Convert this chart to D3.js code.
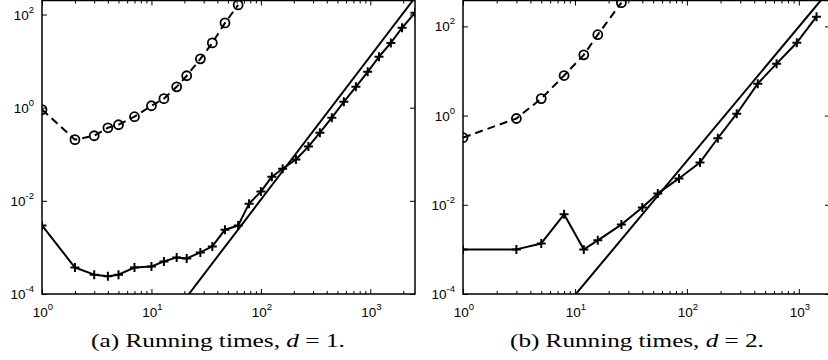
<!DOCTYPE html>
<html>
<head>
<meta charset="utf-8">
<script src="https://cdn.jsdelivr.net/npm/d3@7"></script>
<style>
  body { margin: 0; background: #fff; }
  svg { display: block; }
</style>
</head>
<body>
<script>
// panel (a): d = 1
const nA = [1, 2, 3, 4, 5, 7, 10, 13, 17, 21, 28, 36, 47, 62, 78, 100, 126, 158, 209, 272, 346, 445, 573, 738, 946, 1200, 1540, 1950, 2560];
const fastA = [0.00296, 3.7e-4, 2.6e-4, 2.4e-4, 2.6e-4, 3.7e-4, 3.9e-4, 5.0e-4, 6.1e-4, 5.8e-4, 7.8e-4, 1.05e-3, 2.4e-3, 2.96e-3, 8.7e-3, 0.0158, 0.033, 0.049, 0.077, 0.146, 0.29, 0.61, 1.34, 2.8, 5.9, 12.4, 24.6, 52, 109];
const nSlowA = [1, 2, 3, 4, 5, 7, 10, 13, 17, 21, 28, 36, 47, 62];
const slowA = [0.91, 0.206, 0.25, 0.37, 0.43, 0.64, 1.1, 1.56, 2.8, 4.85, 11.2, 24.6, 66, 161];
const refA = [[22, 1e-4], [2445, 200]];

// panel (b): d = 2
const nB = [1, 3, 5, 8, 12, 16, 26, 40, 55, 85, 131, 189, 279, 430, 633, 960, 1440];
const fastB = [1e-3, 1e-3, 1.36e-3, 6.1e-3, 1e-3, 1.6e-3, 3.6e-3, 8.7e-3, 0.018, 0.039, 0.089, 0.31, 1.1, 5.2, 14.6, 43, 165];
const nSlowB = [1, 3, 5, 8, 12, 16, 26];
const slowB = [0.32, 0.86, 2.4, 7.9, 23, 65, 340];
const refB = [[10.2, 1e-4], [1570, 380]];

const xMajor = [1, 10, 100, 1000];
const yMajor = [1e-4, 1e-2, 1, 1e2];

const W = 828, H = 360;
const svg = d3.select("body").append("svg").attr("width", W).attr("height", H);

const sup = v => String(Math.round(Math.log10(v)));

function minorTicks(domain) {
  const out = [];
  for (let e = 0; e < 5; e++) {
    for (let m = 2; m <= 9; m++) {
      const v = m * Math.pow(10, e);
      if (v > domain[0] && v < domain[1]) out.push(v);
    }
  }
  return out;
}

function panel(id, p) {
  const x = d3.scaleLog().domain(p.xdom).range(p.xr);
  const y = d3.scaleLog().domain(p.ydom).range(p.yr);
  const g = svg.append("g");

  g.append("clipPath").attr("id", "clip" + id)
    .append("rect").attr("x", p.xr[0]).attr("y", p.yr[1])
    .attr("width", p.xr[1] - p.xr[0]).attr("height", p.yr[0] - p.yr[1]);

  // ticks: all four sides, pointing in
  const ticks = (axis, tr, vals, size) => {
    g.append("g").attr("transform", tr)
      .call(axis.tickValues(vals).tickSize(size).tickFormat(""))
      .call(s => s.select(".domain").remove())
      .selectAll("line").attr("stroke", "#000").attr("stroke-width", 1);
  };
  const xMinor = minorTicks(p.xdom);
  ticks(d3.axisBottom(x), `translate(0,${p.yr[0]})`, xMajor, -5);
  ticks(d3.axisBottom(x), `translate(0,${p.yr[0]})`, xMinor, -3);
  ticks(d3.axisTop(x), `translate(0,${p.yr[1]})`, xMajor, -5);
  ticks(d3.axisTop(x), `translate(0,${p.yr[1]})`, xMinor, -3);
  ticks(d3.axisLeft(y), `translate(${p.xr[0]},0)`, yMajor, -5);
  ticks(d3.axisRight(y), `translate(${p.xr[1]},0)`, yMajor, -5);

  // box
  g.append("rect").attr("x", p.xr[0]).attr("y", p.yr[1])
    .attr("width", p.xr[1] - p.xr[0]).attr("height", p.yr[0] - p.yr[1])
    .attr("fill", "none").attr("stroke", "#000").attr("stroke-width", 1.5);

  // tick labels
  const xl = g.selectAll("text.xl").data(xMajor).join("text")
    .attr("class", "xl")
    .attr("x", d => x(d) + 1).attr("y", p.yr[0] + 23)
    .attr("text-anchor", "middle")
    .style("font", "13.5px 'Liberation Sans', Arial, sans-serif");
  xl.append("tspan").text("10");
  xl.append("tspan").attr("dy", -7).style("font-size", "9.5px").text(sup);

  const yl = g.selectAll("text.yl").data(yMajor).join("text")
    .attr("class", "yl")
    .attr("x", p.xr[0] - 8).attr("y", d => y(d) + 5)
    .attr("text-anchor", "end")
    .style("font", "13.5px 'Liberation Sans', Arial, sans-serif");
  yl.append("tspan").text("10");
  yl.append("tspan").attr("dy", -7).style("font-size", "9.5px").text(sup);

  const plot = g.append("g").attr("clip-path", `url(#clip${id})`);
  const line = d3.line().x(d => x(d[0])).y(d => y(d[1]));

  plot.append("path").datum(p.ref).attr("d", line)
    .attr("fill", "none").attr("stroke", "#000").attr("stroke-width", 2);

  const fast = p.n.map((n, i) => [n, p.fast[i]]);
  plot.append("path").datum(fast).attr("d", line)
    .attr("fill", "none").attr("stroke", "#000").attr("stroke-width", 2)
    .attr("stroke-linejoin", "round");
  plot.selectAll("path.plus").data(fast).join("path")
    .attr("class", "plus")
    .attr("d", d => `M${x(d[0]) - 4.5},${y(d[1])}h9M${x(d[0])},${y(d[1]) - 4.5}v9`)
    .attr("stroke", "#000").attr("stroke-width", 2);

  const slow = p.nSlow.map((n, i) => [n, p.slow[i]]);
  plot.append("path").datum(slow).attr("d", line)
    .attr("fill", "none").attr("stroke", "#000").attr("stroke-width", 2)
    .attr("stroke-dasharray", "8,5");
  plot.selectAll("circle").data(slow).join("circle")
    .attr("cx", d => x(d[0])).attr("cy", d => y(d[1])).attr("r", 4.5)
    .attr("fill", "none").attr("stroke", "#000").attr("stroke-width", 1.8);

  // caption, stretched sideways to the width of the LaTeX original
  const cap = svg.append("text")
    .attr("x", 0).attr("y", 0)
    .style("font", "18.5px 'Liberation Serif', 'Times New Roman', serif");
  cap.append("tspan").text(p.capA);
  cap.append("tspan").style("font-style", "italic").text("d");
  cap.append("tspan").text(p.capB);
  const w = cap.node().getComputedTextLength();
  cap.attr("transform", `translate(${p.capX},347) scale(${254 / w},1)`);
}

panel("a", {
  xdom: [1, 2560], xr: [42, 415], ydom: [1e-4, 200], yr: [294, 0.5],
  n: nA, fast: fastA, nSlow: nSlowA, slow: slowA, ref: refA,
  capX: 91, capA: "(a) Running times, ", capB: " = 1."
});
panel("b", {
  xdom: [1, 1900], xr: [463, 830], ydom: [1e-4, 380], yr: [294, 0.5],
  n: nB, fast: fastB, nSlow: nSlowB, slow: slowB, ref: refB,
  capX: 510, capA: "(b) Running times, ", capB: " = 2."
});
</script>
</body>
</html>
